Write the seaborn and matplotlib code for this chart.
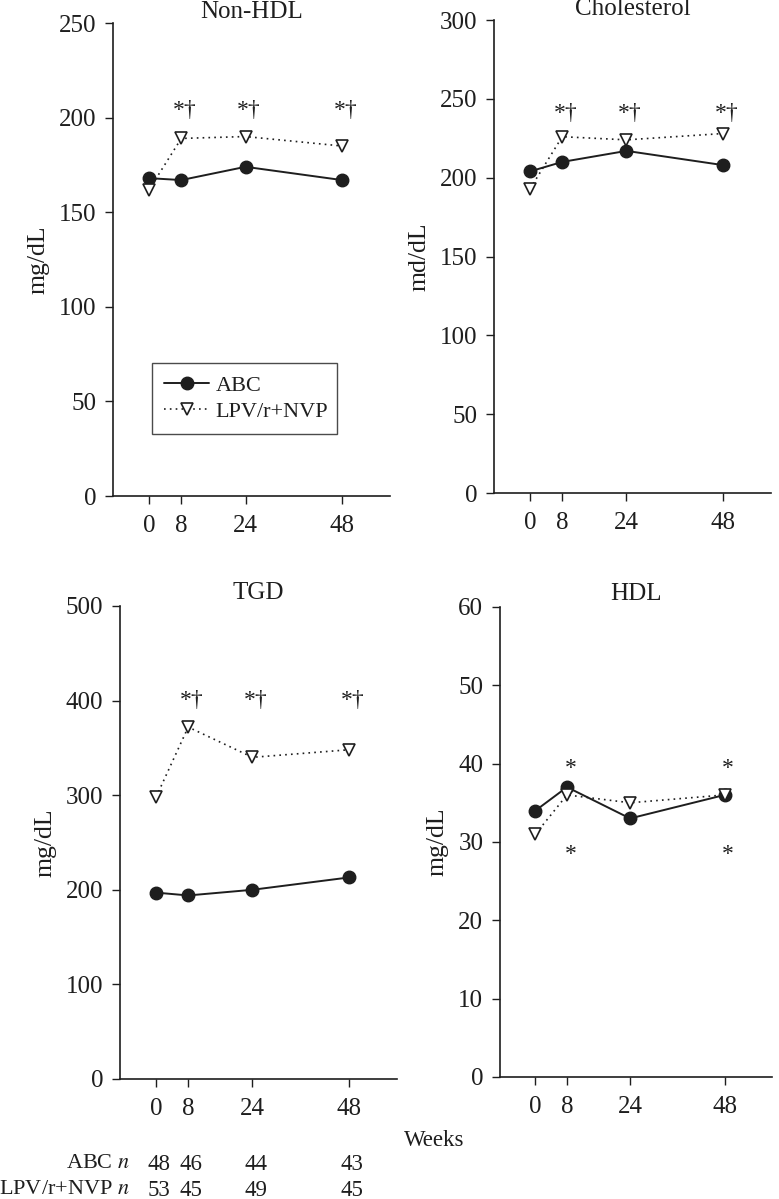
#!/usr/bin/env python3
"""
Lipid panels over 48 weeks: ABC vs LPV/r+NVP
"""

import matplotlib
matplotlib.use("Agg")
import matplotlib.pyplot as plt
import matplotlib.transforms as mtransforms
import seaborn as sns
import pandas as pd

# data
weeks = [0, 8, 24, 48]

nonhdl_abc = [168, 167, 174, 167]
nonhdl_lpv = [162, 189, 190, 185]

chol_abc = [204, 210, 217, 208]
chol_lpv = [193, 226, 224, 228]

tgd_abc = [197, 194, 200, 213]
tgd_lpv = [298, 372, 340, 348]

hdl_abc = [34, 37, 33, 36]
hdl_lpv = [31, 36, 35, 36]

n_abc = [48, 46, 44, 43]
n_lpv = [53, 45, 49, 45]

panel_titles = ["Non-HDL", "Cholesterol", "TGD", "HDL"]
panel_ylabels = ["mg/dL", "md/dL", "mg/dL", "mg/dL"]
panel_ymax = [250, 300, 500, 60]
panel_ystep = [50, 50, 100, 10]

# significance marks: (text, week, y)
marks_nonhdl = [("*\u2020", 8, 204), ("*\u2020", 24, 204), ("*\u2020", 48, 204)]
marks_chol = [("*\u2020", 8, 241), ("*\u2020", 24, 241), ("*\u2020", 48, 241)]
marks_tgd = [("*\u2020", 8, 400), ("*\u2020", 24, 400), ("*\u2020", 48, 400)]
marks_hdl = [("*", 8, 39.4), ("*", 48, 39.4), ("*", 8, 28.4), ("*", 48, 28.4)]

INK = "#1e1e1e"

sns.set_style("ticks")
plt.rcParams["font.family"] = ["Liberation Serif", "DejaVu Serif"]
plt.rcParams["mathtext.fontset"] = "stix"
plt.rcParams["text.color"] = INK
plt.rcParams["axes.labelcolor"] = INK
plt.rcParams["xtick.color"] = INK
plt.rcParams["ytick.color"] = INK
plt.rcParams["axes.edgecolor"] = INK

fig = plt.figure(figsize=(7.79, 11.99), dpi=100)

# axes rectangles in figure fraction
rects = [
    [0.1451, 0.5863, 0.3556, 0.3945],
    [0.6341, 0.5888, 0.3556, 0.3945],
    [0.1540, 0.1001, 0.3556, 0.3945],
    [0.6418, 0.1018, 0.3492, 0.3920],
]

series = [
    (nonhdl_abc, nonhdl_lpv, marks_nonhdl),
    (chol_abc, chol_lpv, marks_chol),
    (tgd_abc, tgd_lpv, marks_tgd),
    (hdl_abc, hdl_lpv, marks_hdl),
]

axes = []
for i, rect in enumerate(rects):
    ax = fig.add_axes(rect)
    axes.append(ax)
    abc, lpv, marks = series[i]

    df = pd.DataFrame({"week": weeks, "abc": abc, "lpv": lpv})

    sns.lineplot(data=df, x="week", y="abc", ax=ax, color=INK,
                 linestyle="-", linewidth=1.4, marker="o", markersize=9,
                 markerfacecolor=INK, markeredgecolor=INK,
                 markeredgewidth=1.0, label="ABC", legend=False)
    sns.lineplot(data=df, x="week", y="lpv", ax=ax, color=INK,
                 linestyle=(0, (1, 2.5)), linewidth=1.2, marker="v",
                 markersize=9, markerfacecolor="white",
                 markeredgecolor=INK, markeredgewidth=1.2,
                 label="LPV/r+NVP", legend=False)

    for txt, wk, yv in marks:
        ax.text(wk + 0.9, yv, txt, ha="center", va="center", fontsize=17)

    ax.set_xlim(-9, 60)
    ax.set_ylim(0, panel_ymax[i])
    ax.set_xticks(weeks)
    ax.set_yticks(range(0, panel_ymax[i] + 1, panel_ystep[i]))
    ax.tick_params(axis="both", labelsize=18, length=6, width=1.0,
                   direction="out")
    ax.tick_params(axis="y", pad=6)
    ax.tick_params(axis="x", pad=8)
    ax.set_xlabel("")
    ax.set_ylabel(panel_ylabels[i], fontsize=18.5, labelpad=7)
    ax.set_title(panel_titles[i], fontsize=18, pad=-0.5 if i < 2 else 5)
    sns.despine(ax=ax)
    for sp in ("left", "bottom"):
        ax.spines[sp].set_linewidth(1.2)

# legend in the first panel, box width fixed through expand mode
leg = axes[0].legend(loc="upper left", bbox_to_anchor=(0.141, 0.129, 0.668, 0.152),
                     mode="expand", fontsize=16, frameon=True, fancybox=False,
                     edgecolor=INK, handlelength=2.0, handletextpad=0.3,
                     borderpad=0.55, labelspacing=0.25,
                     borderaxespad=0)
leg.get_frame().set_linewidth(1.0)

# x label and n table under the lower-left panel
fig.text(0.558, 1 - 1140 / 1199, "Weeks", ha="center", va="center",
         fontsize=16.5)

tr = mtransforms.blended_transform_factory(axes[2].transData, fig.transFigure)
row_y = [1 - 1164 / 1199, 1 - 1190 / 1199]
fig.text(130 / 779, row_y[0], "ABC $n$", ha="right", va="center",
         fontsize=16)
fig.text(130 / 779, row_y[1], "LPV/r+NVP $n$", ha="right", va="center",
         fontsize=16)
for wk, a, b in zip(weeks, n_abc, n_lpv):
    axes[2].text(wk + 0.8, row_y[0], str(a), transform=tr, ha="center",
                 va="center", fontsize=16.5, clip_on=False)
    axes[2].text(wk + 0.8, row_y[1], str(b), transform=tr, ha="center",
                 va="center", fontsize=16.5, clip_on=False)

fig.savefig("out.png", dpi=100)
plt.close(fig)
